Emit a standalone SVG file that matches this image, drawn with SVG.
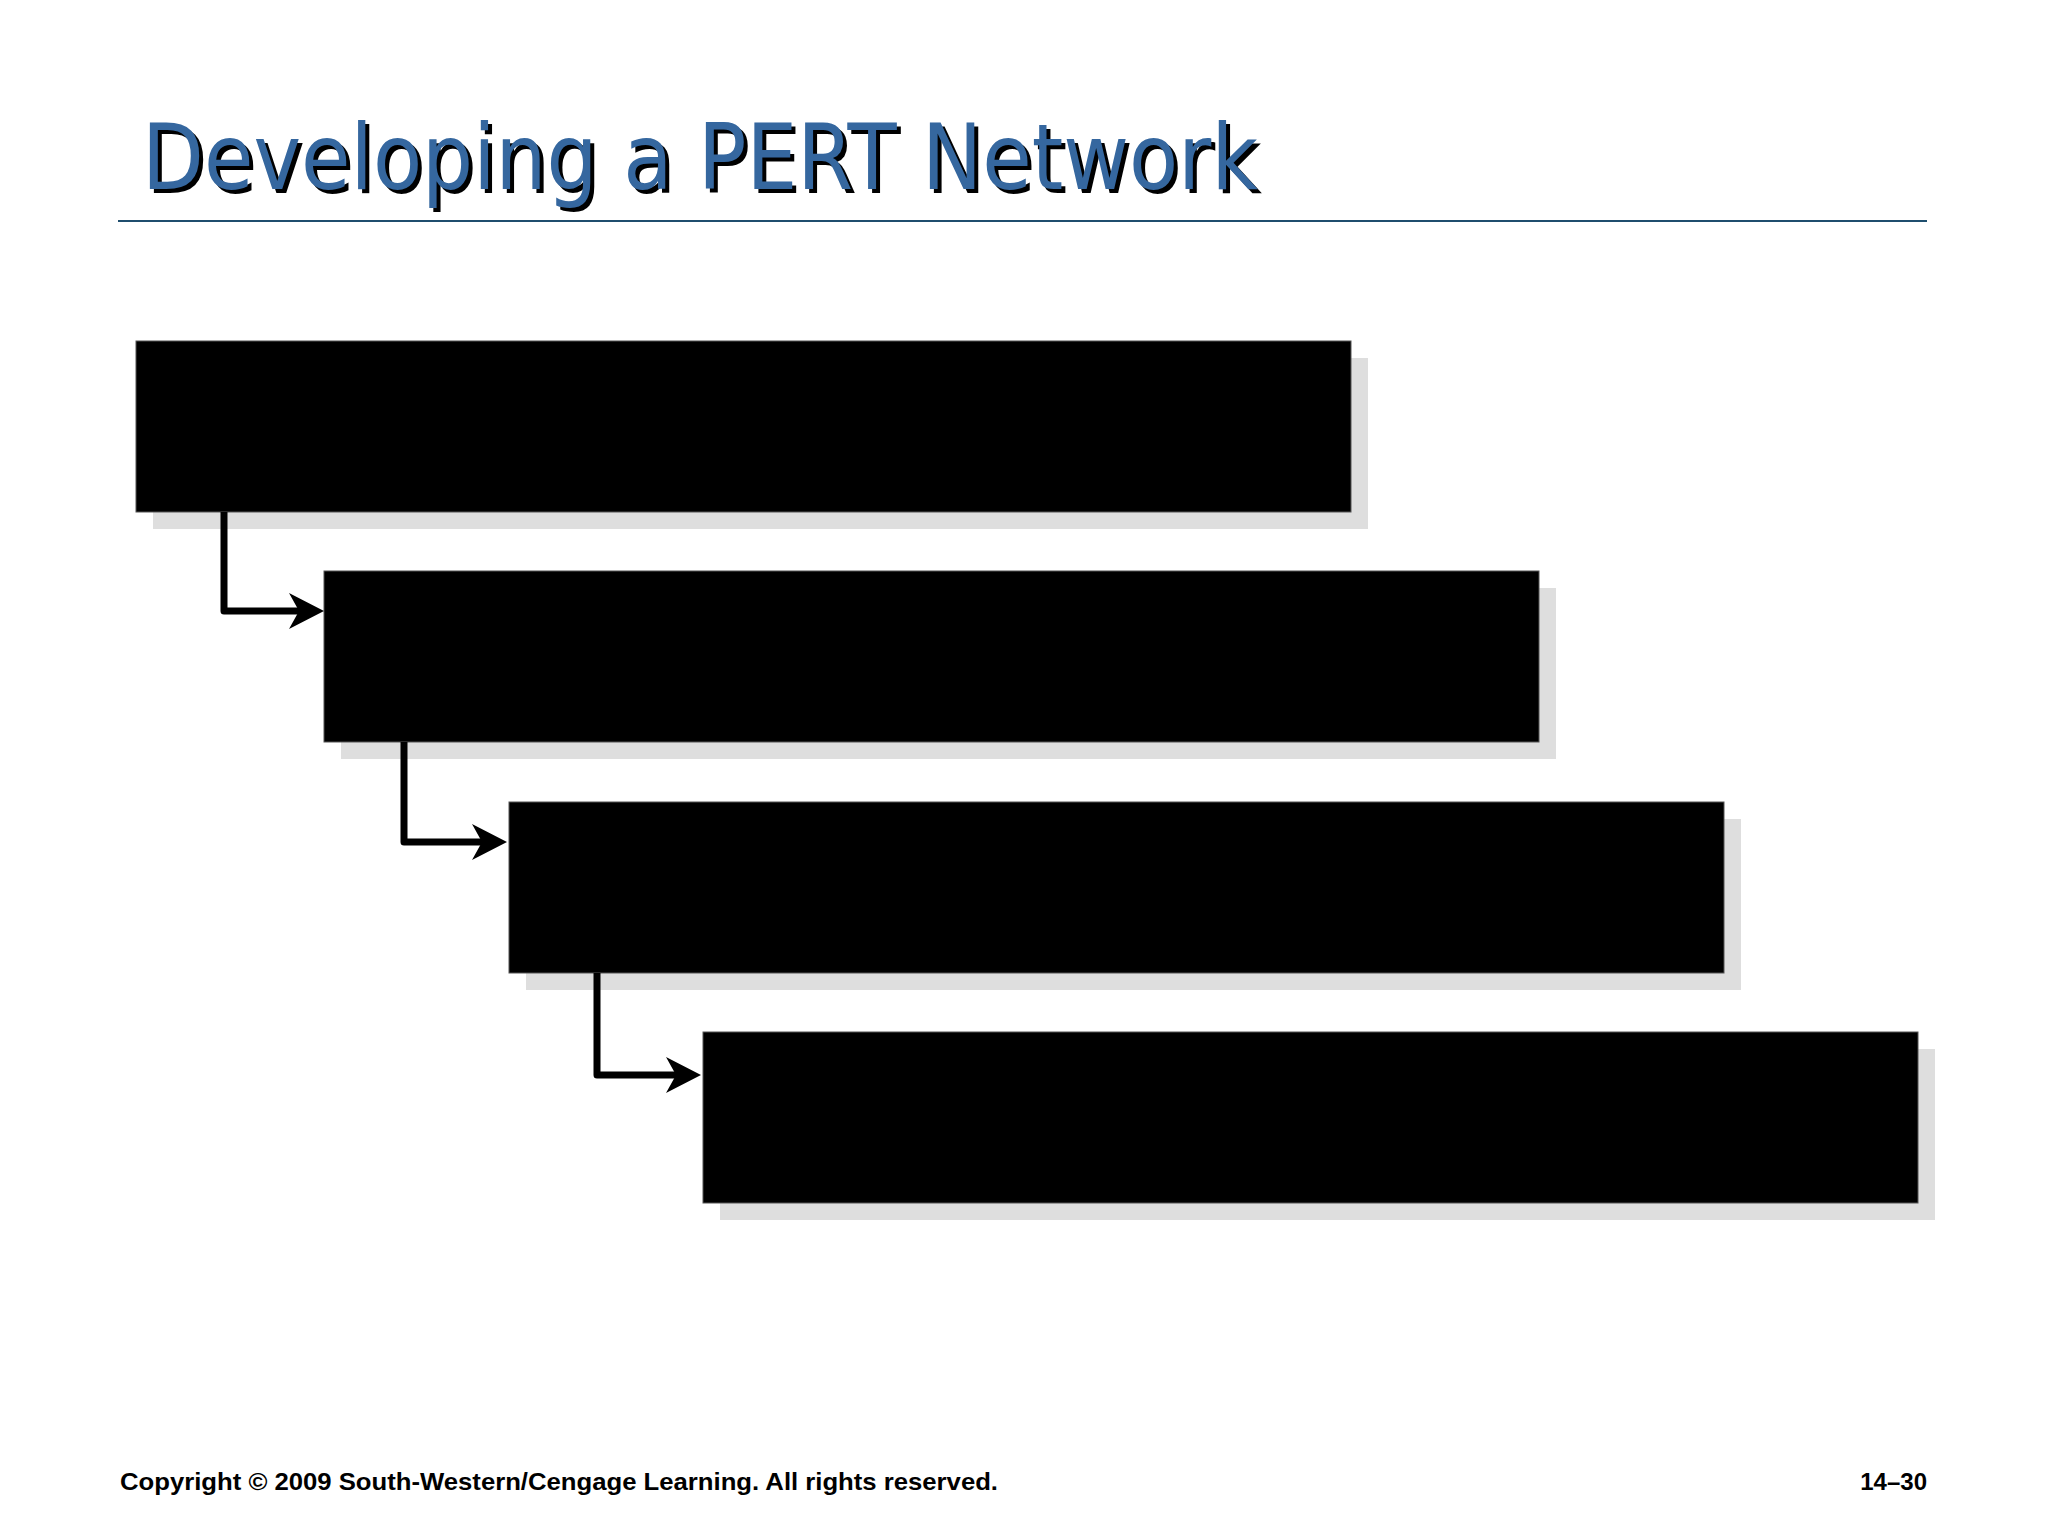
<svg xmlns="http://www.w3.org/2000/svg" width="2048" height="1536" viewBox="0 0 2048 1536">
<style>
.shadow{fill:#dedede}
.box{fill:#000;stroke:#555;stroke-width:1}
.conn{fill:none;stroke:#000;stroke-width:7;stroke-linejoin:round}
.title{font-family:"DejaVu Sans",Verdana,sans-serif;font-size:90px}
.foot{font-family:"Liberation Sans",Arial,sans-serif;font-size:24px;font-weight:bold;fill:#000}
</style>
<defs>
<marker id="arr" markerUnits="userSpaceOnUse" markerWidth="44" markerHeight="44" refX="10" refY="18" orient="auto">
<path d="M0,0 L35,18 L0,36 L10,18 Z" fill="#000"/>
</marker>
</defs>
<rect width="2048" height="1536" fill="#fff"/>
<g id="title">
<text class="title" x="146" y="193" fill="#000" textLength="1116" lengthAdjust="spacingAndGlyphs">Developing a PERT Network</text>
<text class="title" x="142" y="189" fill="#35679f" textLength="1116" lengthAdjust="spacingAndGlyphs">Developing a PERT Network</text>
<line x1="118" y1="221" x2="1927" y2="221" stroke="#1f4e6e" stroke-width="2"/>
</g>
<g id="node1">
<rect class="shadow" x="153" y="358" width="1215" height="171"/>
<rect class="box" x="136" y="341" width="1215" height="171"/>
</g>
<g id="node2">
<rect class="shadow" x="341" y="588" width="1215" height="171"/>
<rect class="box" x="324" y="571" width="1215" height="171"/>
</g>
<g id="node3">
<rect class="shadow" x="526" y="819" width="1215" height="171"/>
<rect class="box" x="509" y="802" width="1215" height="171"/>
</g>
<g id="node4">
<rect class="shadow" x="720" y="1049" width="1215" height="171"/>
<rect class="box" x="703" y="1032" width="1215" height="171"/>
</g>
<g id="connectors">
<path class="conn" d="M224,512 V611 H299" marker-end="url(#arr)"/>
<path class="conn" d="M404,742 V842 H482" marker-end="url(#arr)"/>
<path class="conn" d="M597,973 V1075 H676" marker-end="url(#arr)"/>
</g>
<g id="footer">
<text class="foot" x="120" y="1490" textLength="878" lengthAdjust="spacingAndGlyphs">Copyright © 2009 South-Western/Cengage Learning. All rights reserved.</text>
<text class="foot" x="1927" y="1490" text-anchor="end">14–30</text>
</g>
</svg>
